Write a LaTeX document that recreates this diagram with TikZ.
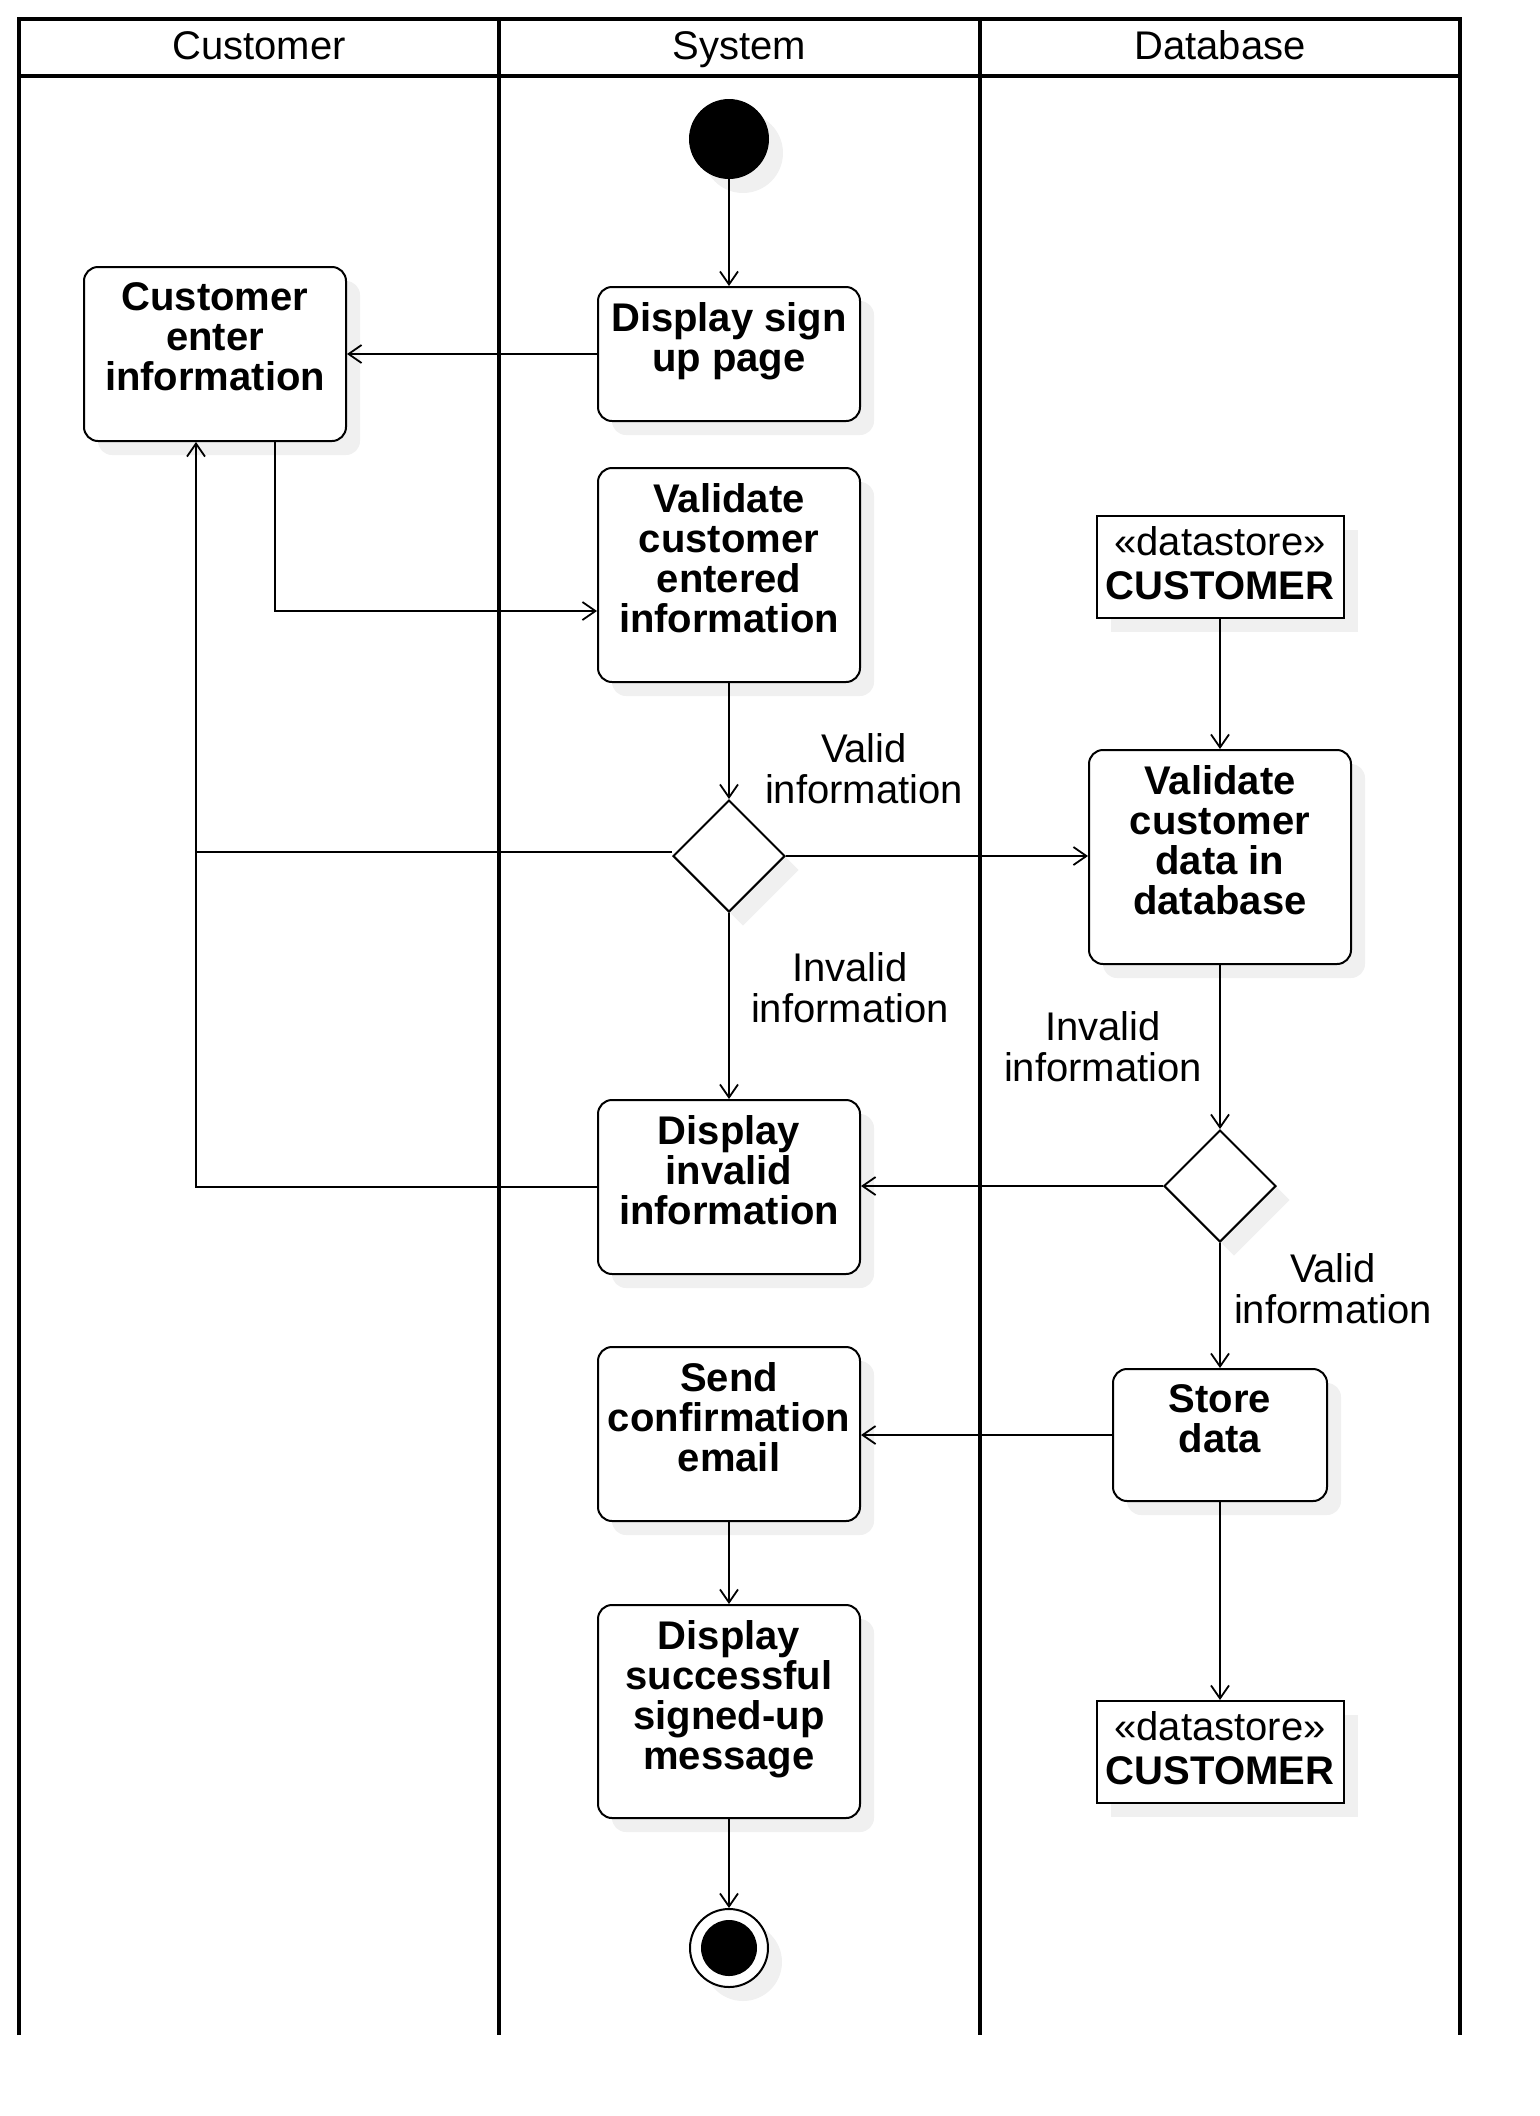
\documentclass[tikz,border=0pt]{standalone}
\usepackage{fontspec}
\setmainfont{Liberation Sans}
\usetikzlibrary{arrows.meta,shapes.geometric,shadows}

\begin{document}
\begin{tikzpicture}[x=0.5pt,y=-0.5pt,
  lane/.style={line width=1.7pt,line join=miter},
  softshadow/.style={drop shadow={shadow xshift=7pt,shadow yshift=-7pt,fill=black!6,opacity=1}},
  action/.style={draw,line width=1pt,rounded corners=7pt,fill=white,minimum width=131pt,inner sep=0pt,softshadow},
  datastore/.style={draw,line width=1pt,fill=white,minimum width=123.5pt,minimum height=51pt,inner sep=0pt,softshadow},
  decision/.style={draw,line width=1pt,diamond,aspect=1,fill=white,minimum width=56pt,minimum height=56pt,inner sep=0pt,softshadow},
  boxtext/.style={align=center,font=\fontsize{20}{20}\selectfont\bfseries,inner sep=0pt,anchor=north},
  storetext/.style={align=center,font=\fontsize{20}{22.2}\selectfont,inner sep=0pt},
  guard/.style={align=center,font=\fontsize{20}{20.5}\selectfont,inner sep=0pt},
  header/.style={font=\fontsize{20}{20.5}\selectfont,inner sep=0pt,anchor=base},
  flow/.style={line width=0.9pt,-{Straight Barb[length=6.5pt,width=9pt]}},
  plainline/.style={line width=0.9pt},
]
\useasboundingbox (0,0) rectangle (1540,2116);

% swimlane pool
\draw[lane] (19,2035) -- (19,19) -- (1460,19) -- (1460,2035);
\draw[lane] (19,76) -- (1460,76);
\draw[lane] (499,19) -- (499,2035);
\draw[lane] (980,19) -- (980,2035);
\node[header] (hcust) at (259,59.5) {Customer};
\node[header] (hsys) at (739.5,59.5) {System};
\node[header] (hdb) at (1220,59.5) {Database};

% start and end
\node[circle,fill=black,minimum size=40pt,inner sep=0pt,softshadow] (start) at (729,139) {};
\node[circle,draw,line width=1pt,fill=white,minimum size=39pt,inner sep=0pt,softshadow] (end) at (729,1948) {};
\node[circle,fill=black,minimum size=28pt,inner sep=0pt] (endcore) at (end.center) {};

% actions
\node[action,minimum height=67pt] (signup) at (729,354) {};
\node[action,minimum height=87pt] (enter) at (215,354) {};
\node[action,minimum height=107pt] (validate) at (729,575) {};
\node[action,minimum height=107pt] (valdb) at (1220,857) {};
\node[action,minimum height=87pt] (invalid) at (729,1187) {};
\node[action,minimum height=87pt] (send) at (729,1434) {};
\node[action,minimum width=107pt,minimum height=66pt] (store) at (1220,1435) {};
\node[action,minimum height=106.5pt] (succ) at (729,1711.5) {};

\node[boxtext] at ([yshift=-8.2pt]signup.north) {Display sign\\up page};
\node[boxtext] at ([yshift=-8.2pt]enter.north) {Customer\\enter\\information};
\node[boxtext] at ([yshift=-8.2pt]validate.north) {Validate\\customer\\entered\\information};
\node[boxtext] at ([yshift=-8.2pt]valdb.north) {Validate\\customer\\data in\\database};
\node[boxtext] at ([yshift=-8.2pt]invalid.north) {Display\\invalid\\information};
\node[boxtext] at ([yshift=-8.2pt]send.north) {Send\\confirmation\\email};
\node[boxtext] at ([yshift=-8.2pt]store.north) {Store\\data};
\node[boxtext] at ([yshift=-8.2pt]succ.north) {Display\\successful\\signed-up\\message};

% data stores
\node[datastore] (ds1) at (1220,567) {};
\node[datastore] (ds2) at (1220,1752) {};
\node[storetext] at ([yshift=2pt]ds1.center) {«datastore»\\\textbf{CUSTOMER}};
\node[storetext] at ([yshift=2pt]ds2.center) {«datastore»\\\textbf{CUSTOMER}};

% decisions
\node[decision] (dec1) at (729,856) {};
\node[decision] (dec2) at (1220,1186) {};

% guard labels
\node[guard] (g1) at (864,769) {Valid\\information};
\node[guard] (g2) at (850,988) {Invalid\\information};
\node[guard] (g3) at (1103,1047) {Invalid\\information};
\node[guard] (g4) at (1333,1289) {Valid\\information};

% routing helpers
\coordinate (ev) at (275,611);
\coordinate (fb) at (196,0);
\coordinate (d1w) at ([yshift=2pt]dec1.west);

% control flow
\draw[flow] (start) -- (signup);
\draw[flow] (signup.west) -- (enter.east);
\draw[flow] (enter.south -| ev) |- (validate.west |- ev);
\draw[flow] (validate) -- (dec1);
\draw[flow] (dec1.east) -- (valdb.west |- dec1.east);
\draw[flow] (dec1) -- (invalid);
\draw[plainline] (d1w) -- (d1w -| fb);
\draw[flow] (invalid.west) -- (invalid.west -| fb) -- (enter.south -| fb);
\draw[flow] (ds1) -- (valdb);
\draw[flow] (valdb) -- (dec2);
\draw[flow] (dec2.west) -- (dec2.west -| invalid.east);
\draw[flow] (dec2) -- (store);
\draw[flow] (store.west) -- (store.west -| send.east);
\draw[flow] (store) -- (ds2);
\draw[flow] (send) -- (succ);
\draw[flow] (succ) -- (end);
\end{tikzpicture}
\end{document}
